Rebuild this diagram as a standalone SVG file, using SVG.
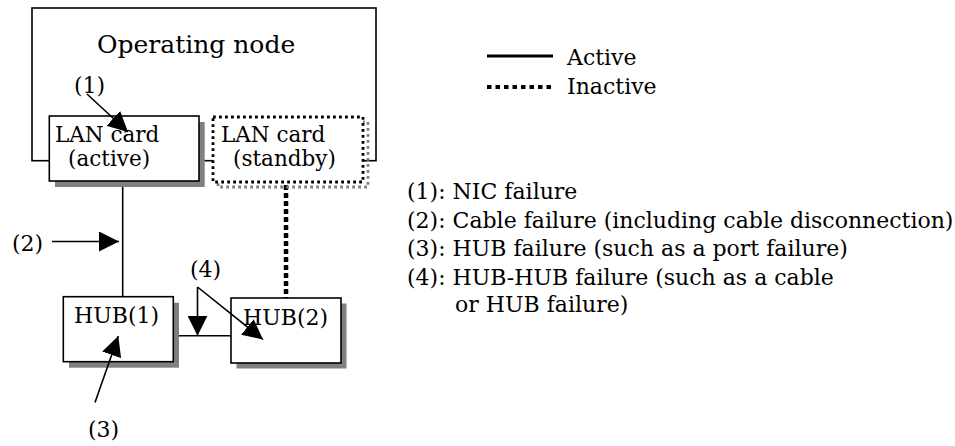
<svg xmlns="http://www.w3.org/2000/svg" width="955" height="446" viewBox="0 0 955 446">
  <style>
    text { font-family: "DejaVu Serif", "Liberation Serif", serif; font-size: 22px; fill: #000; }
    .big { font-size: 25px; }
    .card { font-size: 21.5px; }
    .box { fill: #fff; stroke: #000; stroke-width: 1.6; }
    .shadow { fill: #808080; stroke: none; }
    .dotbox { fill: #fff; stroke: #000; stroke-width: 2.8; stroke-dasharray: 2.8 3.2; }
    .dotshadow { fill: none; stroke: #808080; stroke-width: 2.8; stroke-dasharray: 2.8 3.2; }
    .wire { fill: none; stroke: #000; stroke-width: 1.6; }
    .standby-wire { fill: none; stroke: #000; stroke-width: 4.5; stroke-dasharray: 5 3; }
    .pointer { fill: none; stroke: #000; stroke-width: 1.6; marker-end: url(#head); }
  </style>
  <defs>
    <marker id="head" markerUnits="userSpaceOnUse" markerWidth="20" markerHeight="20" refX="20" refY="10" orient="auto">
      <path d="M0,0 L20,10 L0,20 Z" fill="#000"/>
    </marker>
  </defs>

  <rect width="955" height="446" fill="#fff"/>

  <!-- enclosing node -->
  <g id="operating-node">
    <rect class="box" x="32" y="8" width="344" height="152.7"/>
    <text class="big" x="97" y="53">Operating node</text>
  </g>

  <!-- connectors -->
  <g id="connectors">
    <line class="wire" x1="122.7" y1="181" x2="122.7" y2="297"/>
    <line class="wire" x1="173.3" y1="335.7" x2="231" y2="335.7"/>
    <line class="standby-wire" x1="286" y1="185" x2="286" y2="298"/>
  </g>

  <g id="lan-active">
    <rect class="shadow" x="55" y="122" width="149.7" height="65"/>
    <rect class="box" x="49.3" y="116" width="149.7" height="65"/>
    <text class="card" x="55" y="141.5">LAN card</text>
    <text class="card" x="68" y="166">(active)</text>
  </g>

  <g id="lan-standby">
    <rect class="dotshadow" x="218" y="122" width="150" height="65"/>
    <rect class="dotbox" x="213" y="117" width="150" height="65"/>
    <text class="card" x="221" y="141.5">LAN card</text>
    <text class="card" x="233" y="166">(standby)</text>
  </g>

  <g id="hub1">
    <rect class="shadow" x="69" y="302.7" width="110" height="65"/>
    <rect class="box" x="63.3" y="296.7" width="110" height="65"/>
    <text x="74" y="323">HUB(1)</text>
  </g>

  <g id="hub2">
    <rect class="shadow" x="236.5" y="303.5" width="110" height="65"/>
    <rect class="box" x="231" y="298" width="110" height="65"/>
    <text x="243" y="324.5">HUB(2)</text>
  </g>

  <!-- failure points -->
  <g id="failure-points">
    <text x="74" y="93">(1)</text>
    <line class="pointer" x1="87" y1="94" x2="128" y2="132"/>
    <text x="12" y="251">(2)</text>
    <line class="pointer" x1="52" y1="241.5" x2="119" y2="241.5"/>
    <text x="88" y="437">(3)</text>
    <line class="pointer" x1="95" y1="402.5" x2="118.3" y2="336"/>
    <text x="190" y="277">(4)</text>
    <line class="pointer" x1="197.5" y1="287" x2="197.5" y2="335.7"/>
    <line class="pointer" x1="197.5" y1="287" x2="263" y2="339.5"/>
  </g>

  <!-- legend -->
  <g id="legend">
    <line x1="487" y1="56" x2="553" y2="56" stroke="#000" stroke-width="3"/>
    <text x="567" y="65">Active</text>
    <line x1="487" y1="87" x2="553" y2="87" stroke="#000" stroke-width="4" stroke-dasharray="4.5 4"/>
    <text x="567" y="93.5">Inactive</text>
  </g>

  <!-- failure list -->
  <g id="failure-list">
    <text x="407" y="199">(1): NIC failure</text>
    <text x="407" y="227.5">(2): Cable failure (including cable disconnection)</text>
    <text x="407" y="256">(3): HUB failure (such as a port failure)</text>
    <text x="407" y="284.5">(4): HUB-HUB failure (such as a cable</text>
    <text x="455" y="312">or HUB failure)</text>
  </g>
</svg>
